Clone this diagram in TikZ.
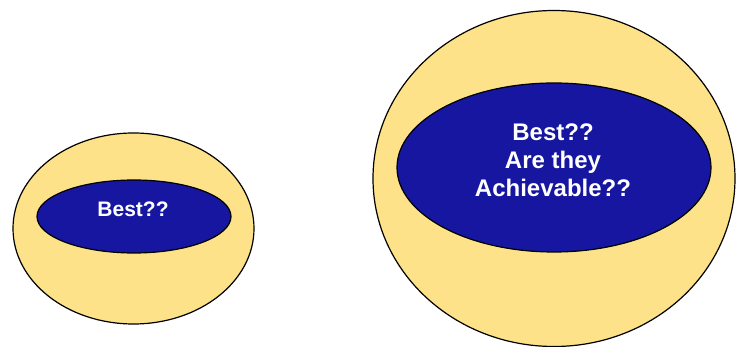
\documentclass[tikz,border=0pt]{standalone}
\usepackage{fontspec}
\setmainfont{Liberation Sans}
\definecolor{yel}{RGB}{253,226,138}
\definecolor{nav}{RGB}{22,22,160}
\begin{document}
\begin{tikzpicture}[x=1pt,y=-1pt,
  outer/.style={fill=yel,draw=black,line width=1.2pt},
  inner/.style={fill=nav,draw=black,line width=1.2pt},
  lbl/.style={text=white,font=\bfseries,align=center}]
\useasboundingbox (0,0) rectangle (740,347);
\path[outer] (133.5,228.5) ellipse [x radius=120.5,y radius=95.5];
\path[inner] (134,216.5) ellipse [x radius=97,y radius=36.5];
\node[lbl,font=\fontsize{21}{24}\bfseries] (b1) at (133,209) {Best??};
\path[outer] (554,178.5) ellipse [x radius=181,y radius=168];
\path[inner] (554,167.5) ellipse [x radius=157,y radius=84.5];
\node[lbl,font=\fontsize{24}{28}\bfseries] (b2) at (553,160) {Best??\\Are they\\Achievable??};
\end{tikzpicture}
\end{document}
